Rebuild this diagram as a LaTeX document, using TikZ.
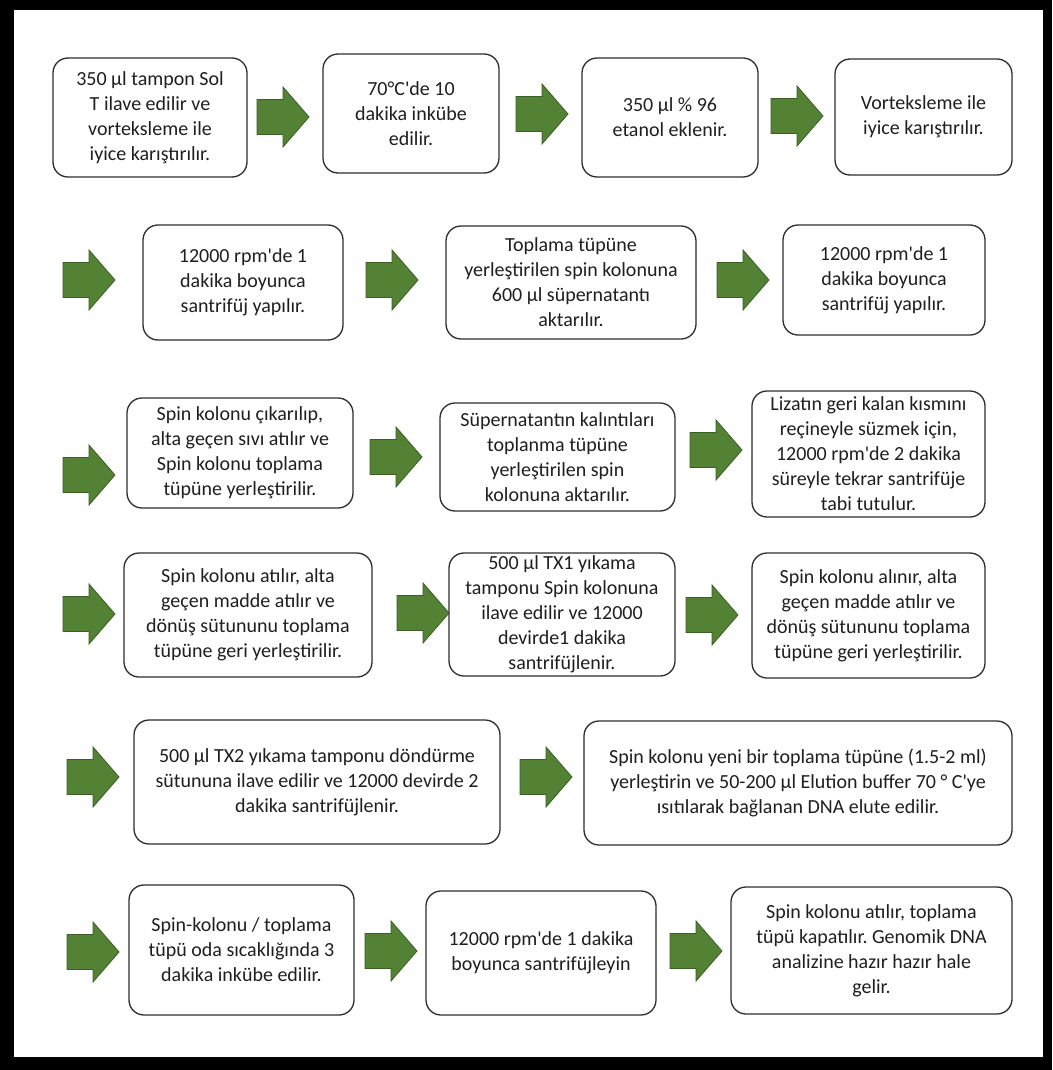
\documentclass[tikz,border=0pt]{standalone}
\usepackage{fontspec}
\setmainfont{Carlito}
\frenchspacing
\newcommand\ap{\textquotesingle}
\definecolor{agreen}{HTML}{548235}
\definecolor{agreenline}{HTML}{3B5E24}
\definecolor{boxline}{HTML}{2E2E2E}
\definecolor{txt}{HTML}{1F1F1F}
\tikzset{
  stepbox/.style={draw=boxline, line width=1.3pt, rounded corners=15pt, fill=white,
    align=center, inner sep=1pt, text=txt, font=\fontsize{20}{25}\selectfont},
  garrowstyle/.style={fill=agreen, draw=agreenline, line width=0.8pt, line join=miter}
}
\newcommand\garrow[3]{%
  \coordinate (#1) at (#2,#3);
  \draw[garrowstyle, shift={(#1)}] (-26,-17.5) -- (0,-17.5) -- (0,-30) -- (26,0) -- (0,30) -- (0,17.5) -- (-26,17.5) -- cycle;}
\begin{document}
\begin{tikzpicture}[x=1pt,y=-1pt]
\useasboundingbox (0,0) rectangle (1052,1070);
\fill[black] (0,0) rectangle (1052,1070);
\fill[white] (14,10) rectangle (1043,1057);
% Row 1
\node[stepbox, minimum width=194pt, minimum height=119pt] (b11) at (150,117.5) {350 µl tampon Sol\\T ilave edilir ve\\vorteksleme ile\\iyice karıştırılır.};
\node[stepbox, minimum width=176pt, minimum height=119pt] (b12) at (411,113.5) {70°C\ap de 10\\dakika inkübe\\edilir.};
\node[stepbox, minimum width=176pt, minimum height=119pt] (b13) at (670,117.5) {350 µl \% 96\\etanol eklenir.};
\node[stepbox, minimum width=177pt, minimum height=116pt] (b14) at (923.5,117) {Vorteksleme ile\\iyice karıştırılır.};
\garrow{a11}{283}{117}
\garrow{a12}{542}{114}
\garrow{a13}{797}{116}
% Row 2
\garrow{a21}{89}{280}
\node[stepbox, minimum width=200pt, minimum height=115pt] (b21) at (243,282.5) {12000 rpm\ap de 1\\dakika boyunca\\santrifüj yapılır.};
\garrow{a22}{392}{280}
\node[stepbox, minimum width=250pt, minimum height=113pt] (b22) at (571,282.5) {Toplama tüpüne\\yerleştirilen spin kolonuna\\600 µl süpernatantı\\aktarılır.};
\garrow{a23}{743}{280}
\node[stepbox, minimum width=202pt, minimum height=110pt] (b23) at (884,280) {12000 rpm\ap de 1\\dakika boyunca\\santrifüj yapılır.};
% Row 3
\garrow{a31}{89}{475}
\node[stepbox, minimum width=226pt, minimum height=110pt] (b31) at (240,453) {Spin kolonu çıkarılıp,\\alta geçen sıvı atılır ve\\Spin kolonu toplama\\tüpüne yerleştirilir.};
\garrow{a32}{396}{457}
\node[stepbox, minimum width=235pt, minimum height=108pt] (b32) at (557.5,457) {Süpernatantın kalıntıları\\toplanma tüpüne\\yerleştirilen spin\\kolonuna aktarılır.};
\garrow{a33}{716}{450}
\node[stepbox, minimum width=233pt, minimum height=126pt] (b33) at (868.5,454) {Lizatın geri kalan kısmını\\reçineyle süzmek için,\\12000 rpm\ap de 2 dakika\\süreyle tekrar santrifüje\\tabi tutulur.};
% Row 4
\garrow{a41}{89}{614}
\node[stepbox, minimum width=248pt, minimum height=124pt] (b41) at (248,615) {Spin kolonu atılır, alta\\geçen madde atılır ve\\dönüş sütununu toplama\\tüpüne geri yerleştirilir.};
\garrow{a42}{423}{613}
\node[stepbox, minimum width=226pt, minimum height=123pt] (b42) at (562,614.5) {500 µl TX1 yıkama\\tamponu Spin kolonuna\\ilave edilir ve 12000\\devirde1 dakika\\santrifüjlenir.};
\garrow{a43}{712}{615}
\node[stepbox, minimum width=233pt, minimum height=125pt] (b43) at (868.5,615.5) {Spin kolonu alınır, alta\\geçen madde atılır ve\\dönüş sütununu toplama\\tüpüne geri yerleştirilir.};
% Row 5
\garrow{a51}{93}{777}
\node[stepbox, minimum width=366pt, minimum height=124pt] (b51) at (317,782) {500 µl TX2 yıkama tamponu döndürme\\sütununa ilave edilir ve 12000 devirde 2\\dakika santrifüjlenir.};
\garrow{a52}{546}{777}
\node[stepbox, minimum width=428pt, minimum height=124pt] (b52) at (798,783) {Spin kolonu yeni bir toplama tüpüne (1.5-2 ml)\\yerleştirin ve 50-200 µl Elution buffer 70 ° C\ap ye\\ısıtılarak bağlanan DNA elute edilir.};
% Row 6
\garrow{a61}{93}{952}
\node[stepbox, minimum width=225pt, minimum height=130pt] (b61) at (241.5,950) {Spin-kolonu / toplama\\tüpü oda sıcaklığında 3\\dakika inkübe edilir.};
\garrow{a62}{391}{951}
\node[stepbox, minimum width=230pt, minimum height=124pt] (b62) at (541,953) {12000 rpm\ap de 1 dakika\\boyunca santrifüjleyin};
\garrow{a63}{696}{951}
\node[stepbox, minimum width=281pt, minimum height=127pt] (b63) at (871.5,950.5) {Spin kolonu atılır, toplama\\tüpü kapatılır. Genomik DNA\\analizine hazır hazır hale\\gelir.};
\end{tikzpicture}
\end{document}
